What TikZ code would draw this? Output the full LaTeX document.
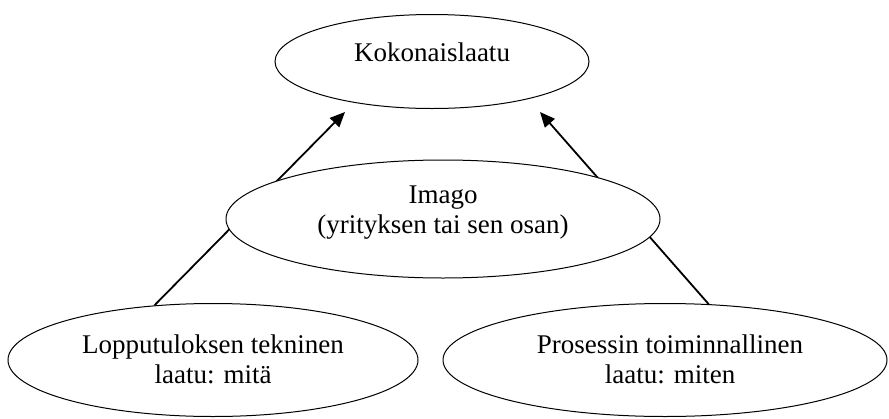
\documentclass[tikz,border=0pt]{standalone}
\usepackage{fontspec}
\setmainfont{Liberation Serif}
\usetikzlibrary{shapes.geometric,arrows.meta}
\pgfdeclarelayer{bg}
\pgfsetlayers{bg,main}
\begin{document}
\begin{tikzpicture}[x=1pt,y=-1pt,
  oval/.style={ellipse,draw,fill=white,line width=1pt,inner sep=0pt},
  lbl/.style={font=\fontsize{27}{30}\selectfont,align=center,inner sep=0pt},
  link/.style={line width=1.8pt,-{Triangle[length=15pt,width=13pt]}}]
\useasboundingbox (0,0) rectangle (889,418);
\node[oval,minimum width=314pt,minimum height=94pt] (top) at (432,61.5) {};
\node[oval,minimum width=434pt,minimum height=118pt] (mid) at (443,219) {};
\node[oval,minimum width=410pt,minimum height=113pt] (bl) at (213,360) {};
\node[oval,minimum width=444pt,minimum height=113pt] (br) at (665,360) {};
\node[lbl] (ttop) at (432,52) {Kokonaislaatu};
\node[lbl] (tmid) at (443,213) {Imago\\(yrityksen tai sen osan)};
\node[lbl] (tbl) at (213,359) {Lopputuloksen tekninen\\laatu: mitä};
\node[lbl] (tbr) at (670,359) {Prosessin toiminnallinen\\laatu: miten};
\coordinate (tipL) at (345,112);
\coordinate (tipR) at (540,112);
\begin{pgfonlayer}{bg}
\fill[white] (0,0) rectangle (889,418);
\draw[link] (bl.137) -- (tipL);
\draw[link] (br.52.5) -- (tipR);
\end{pgfonlayer}
\end{tikzpicture}
\end{document}
